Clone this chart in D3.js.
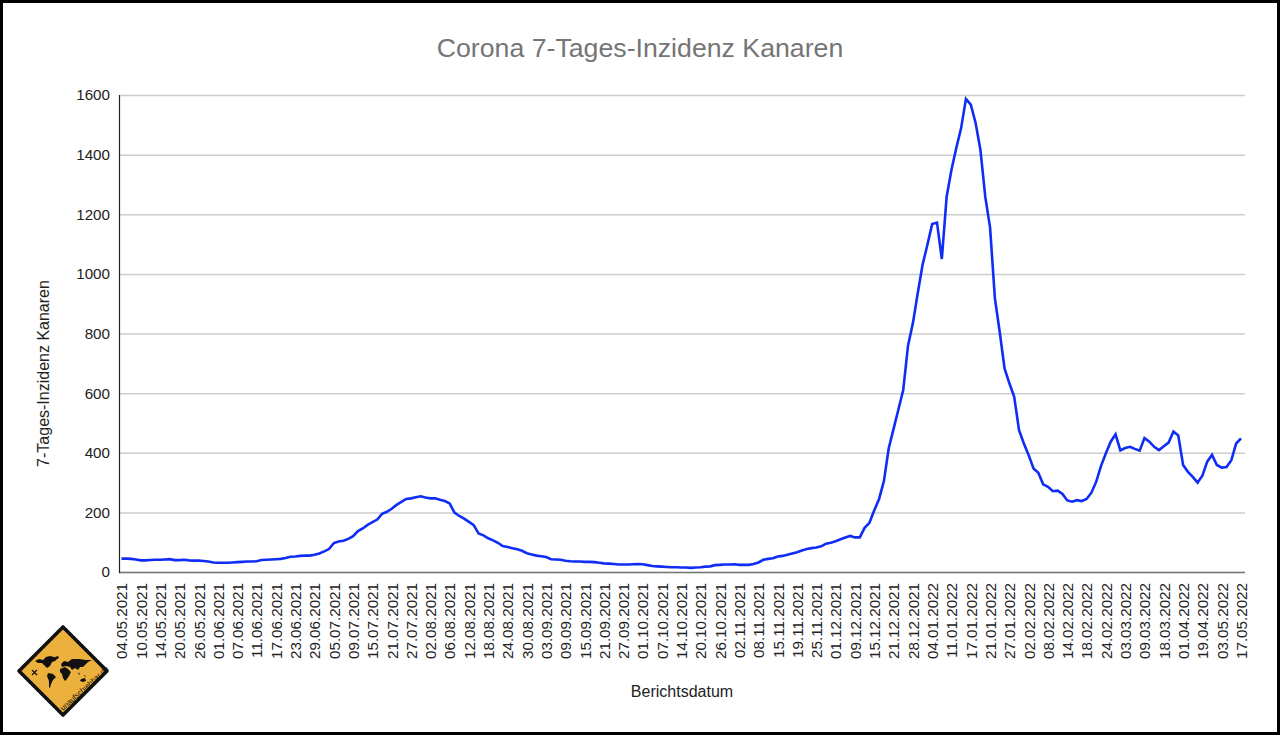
<!DOCTYPE html>
<html>
<head>
<meta charset="utf-8">
<script src="https://cdn.jsdelivr.net/npm/d3@7/dist/d3.min.js"></script>
<style>
  html, body { margin: 0; padding: 0; background: #fff; }
  svg { display: block; }
  text { font-family: "Liberation Sans", Arial, sans-serif; fill: #222; }
  .chart-title { font-size: 26.7px; fill: #757575; }
  .axis-title { font-size: 16px; }
  .axis text { font-size: 15.2px; fill: #222; }
  .axis .domain { display: none; }
  .y.axis .tick line { stroke: #cdcdcd; stroke-width: 1.5; }
  .x.axis .tick line { display: none; }
  .data-line { fill: none; stroke: #0f2df5; stroke-width: 2.6; stroke-linejoin: miter; }
</style>
</head>
<body>
<div id="chart"></div>
<script>
// one label every 4 report days, the axis is categorical
var dateLabels = [
  "04.05.2021","10.05.2021","14.05.2021","20.05.2021","26.05.2021","01.06.2021","07.06.2021","11.06.2021",
  "17.06.2021","23.06.2021","29.06.2021","05.07.2021","09.07.2021","15.07.2021","21.07.2021","27.07.2021",
  "02.08.2021","06.08.2021","12.08.2021","18.08.2021","24.08.2021","30.08.2021","03.09.2021","09.09.2021",
  "15.09.2021","21.09.2021","27.09.2021","01.10.2021","07.10.2021","14.10.2021","20.10.2021","26.10.2021",
  "02.11.2021","08.11.2021","15.11.2021","19.11.2021","25.11.2021","01.12.2021","09.12.2021","15.12.2021",
  "21.12.2021","28.12.2021","04.01.2022","11.01.2022","17.01.2022","21.01.2022","27.01.2022","02.02.2022",
  "08.02.2022","14.02.2022","18.02.2022","24.02.2022","03.03.2022","09.03.2022","18.03.2022","01.04.2022",
  "19.04.2022","03.05.2022","17.05.2022"
];
var labelEvery = 4;

// 7-day incidence per report
var incidence = [
  45,45,44,42,39,39,40,41,41,42,43,40,40,41,39,38,38,37,35,32,
  31,31,31,32,33,34,35,35,36,40,41,42,43,44,47,51,52,54,55,55,
  58,62,69,77,97,102,105,111,120,137,146,158,167,176,195,202,212,225,235,245,
  247,251,254,250,247,247,242,238,230,199,188,179,168,157,129,123,113,106,98,87,
  84,80,76,71,63,59,55,53,50,43,42,41,38,36,35,35,34,34,33,31,
  29,28,27,25,25,25,26,27,26,23,20,19,18,17,16,16,15,15,14,15,
  16,18,19,23,24,25,25,26,24,24,24,27,32,41,44,46,52,54,58,62,
  66,72,77,80,82,86,95,98,103,110,116,121,116,116,148,165,207,245,305,415,
  480,545,610,760,834,934,1030,1097,1167,1172,1050,1259,1349,1422,1489,1587,1568,1506,1416,1259,
  1155,918,805,683,633,588,476,431,392,347,333,294,286,271,273,262,240,236,241,238,
  245,266,303,356,398,437,462,408,416,420,413,407,449,437,420,409,422,434,471,458,
  359,336,319,300,323,370,393,359,350,352,375,431,448
];

var yTicks = [0, 200, 400, 600, 800, 1000, 1200, 1400, 1600];

var titleText = "Corona 7-Tages-Inzidenz Kanaren";
var xTitle = "Berichtsdatum";
var yTitle = "7-Tages-Inzidenz Kanaren";

var width = 1280;
var height = 735;

var margins = { top: 95, right: 39, bottom: 163, left: 121.5 };

var svg = d3.select("#chart")
  .append("svg")
  .attr("width", width)
  .attr("height", height);

// white page with the black frame of the screenshot
svg.append("rect")
  .attr("x", 1.5)
  .attr("y", 1.5)
  .attr("width", width - 3)
  .attr("height", height - 3)
  .attr("fill", "#fff")
  .attr("stroke", "#000")
  .attr("stroke-width", 3);

var xScale = d3.scaleLinear()
  .domain([0, incidence.length - 1])
  .range([margins.left, width - margins.right]);

var yScale = d3.scaleLinear()
  .domain([0, 1600])
  .range([height - margins.bottom, margins.top]);

// grid comes with the y axis
var yAxis = d3.axisLeft(yScale)
  .tickValues(yTicks)
  .tickSize(-(1245 - 119))
  .tickPadding(9)
  .tickFormat(d => d);

svg.append("g")
  .attr("class", "y axis")
  .attr("transform", "translate(119,0)")
  .call(yAxis);

var xAxis = d3.axisBottom(xScale)
  .tickValues(dateLabels.map((d, i) => i * labelEvery))
  .tickFormat(d => dateLabels[d / labelEvery]);

svg.append("g")
  .attr("class", "x axis")
  .attr("transform", `translate(0,${height - margins.bottom})`)
  .call(xAxis)
  .selectAll("text")
  .attr("transform", "rotate(-90)")
  .attr("text-anchor", "end")
  .attr("x", -11)
  .attr("y", 0)
  .attr("dy", "0.35em");

// baseline and left axis line
svg.append("line")
  .attr("x1", 119)
  .attr("x2", 1245)
  .attr("y1", yScale(0) + 0.5)
  .attr("y2", yScale(0) + 0.5)
  .attr("stroke", "#777")
  .attr("stroke-width", 1.5);

svg.append("line")
  .attr("x1", 119.5)
  .attr("x2", 119.5)
  .attr("y1", yScale(1600))
  .attr("y2", yScale(0) + 1)
  .attr("stroke", "#222")
  .attr("stroke-width", 1.2);

var line = d3.line()
  .x((d, i) => xScale(i))
  .y(d => yScale(d));

svg.append("path")
  .attr("class", "data-line")
  .attr("d", line(incidence));

svg.append("text")
  .attr("class", "chart-title")
  .attr("x", 640)
  .attr("y", 57)
  .attr("text-anchor", "middle")
  .text(titleText);

svg.append("text")
  .attr("class", "axis-title")
  .attr("x", 682)
  .attr("y", 697)
  .attr("text-anchor", "middle")
  .text(xTitle);

svg.append("text")
  .attr("class", "axis-title")
  .attr("transform", "translate(49,373.5) rotate(-90)")
  .attr("text-anchor", "middle")
  .text(yTitle);

// logo, bottom left
var logo = svg.append("g").attr("class", "logo");

logo.append("path")
  .attr("d", "M63,627 L107,671 L63,715 L19,671 Z")
  .attr("fill", "#ecb03c")
  .attr("stroke", "#111")
  .attr("stroke-width", 3.6)
  .attr("stroke-linejoin", "round");

var continents = [
  "M35,661 L39,659 L43,660 L46,657 L50,656 L54,657 L58,658 L55,661 L52,662 L50,666 L47,668 L45,666 L42,663 L38,663 Z",
  "M48,673 L53,674 L56,677 L53,680 L51,684 L50,688 L49,687 L49,681 L47,676 Z",
  "M60,669 L65,667 L68,669 L71,672 L69,676 L67,679 L65,681 L63,678 L62,674 L60,672 Z",
  "M61,664 L64,661 L68,662 L72,659 L79,659 L86,660 L92,660 L88,662 L85,665 L83,667 L80,667 L78,670 L75,668 L72,670 L70,667 L66,666 L62,667 Z",
  "M81,679 L85,678 L86,681 L83,682 L80,681 Z",
  "M55,657 L58,656 L59,658 L57,659 Z",
  "M78,672 L80,674 L79,675 Z",
  "M84,675 L86,676 L85,677 Z"
];

logo.selectAll(".continent")
  .data(continents)
  .enter()
  .append("path")
  .attr("class", "continent")
  .attr("d", d => d)
  .attr("fill", "#111");

logo.append("path")
  .attr("d", "M32,670 L37,675 M37,670 L32,675")
  .attr("stroke", "#111")
  .attr("stroke-width", 1.2);

logo.append("text")
  .attr("transform", "translate(63,711) rotate(-42)")
  .attr("font-size", 7.6)
  .style("fill", "#111")
  .text("unaufschiebbar.de");
</script>
</body>
</html>
